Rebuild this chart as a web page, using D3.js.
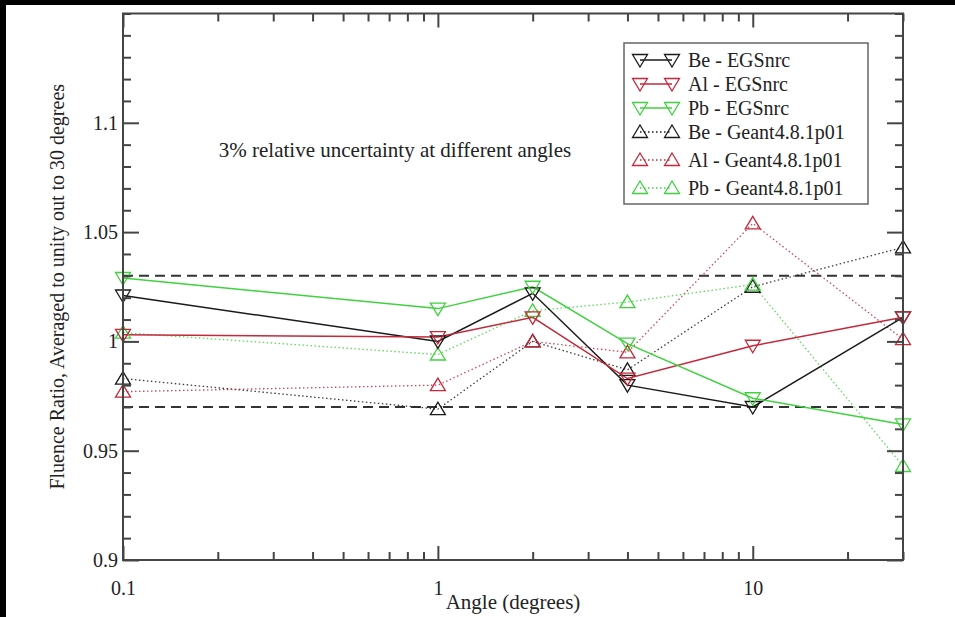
<!DOCTYPE html>
<html><head><meta charset="utf-8">
<script src="https://cdn.jsdelivr.net/npm/d3@7"></script>
<style>
html,body{margin:0;padding:0;background:#000;}
svg{display:block;}
svg text{font-family:"Liberation Serif","DejaVu Serif",serif !important;fill:#222;}
</style></head>
<body>
<svg id="chart" width="955" height="617"></svg>
<script>
const angles = [0.1, 1, 2, 4, 10, 30];
const beEGS  = [1.021, 1.000, 1.022, 0.980, 0.970, 1.011];
const alEGS  = [1.003, 1.002, 1.011, 0.983, 0.998, 1.011];
const pbEGS  = [1.029, 1.015, 1.025, 0.999, 0.974, 0.962];
const beG4   = [0.983, 0.969, 1.000, 0.987, 1.025, 1.043];
const alG4   = [0.977, 0.980, 1.000, 0.995, 1.054, 1.001];
const pbG4   = [1.004, 0.994, 1.014, 1.018, 1.026, 0.943];
const seriesNames = ["Be - EGSnrc","Al - EGSnrc","Pb - EGSnrc","Be - Geant4.8.1p01","Al - Geant4.8.1p01","Pb - Geant4.8.1p01"];
const xTickLabels = ["0.1","1","10"];
const yTickLabels = ["0.9","0.95","1","1.05","1.1"];
const bandLines = [1.03, 0.97];

const BLACK="#1a1a1a", RED="#c4283a", GREEN="#3ed23e";
const FONT='"Liberation Serif","DejaVu Serif",serif';
const series = [
  {name:seriesNames[0], vals:beEGS, color:BLACK, up:false, dotted:false},
  {name:seriesNames[1], vals:alEGS, color:RED,   up:false, dotted:false},
  {name:seriesNames[2], vals:pbEGS, color:GREEN, up:false, dotted:false},
  {name:seriesNames[3], vals:beG4,  color:BLACK, up:true,  dotted:true},
  {name:seriesNames[4], vals:alG4,  color:RED,   up:true,  dotted:true},
  {name:seriesNames[5], vals:pbG4,  color:GREEN, up:true,  dotted:true}
];

const svg = d3.select("#chart");
svg.append("rect").attr("x",6).attr("y",5).attr("width",949).attr("height",612).attr("fill","#fff");

const L=123, R=903, T=13.5, B=560;
const x = d3.scaleLog().domain([0.1,30]).range([L,R]);
const y = d3.scaleLinear().domain([0.9,1.15]).range([B,T]);

const g = svg.append("g");

bandLines.forEach(v=>{
  g.append("line").attr("x1",L).attr("x2",R).attr("y1",y(v)).attr("y2",y(v))
   .attr("stroke","#333").attr("stroke-width",2).attr("stroke-dasharray","10,6");
});

g.append("text").attr("x",395).attr("y",157).attr("text-anchor","middle")
 .style("font-family",FONT).style("font-size","21px").text("3% relative uncertainty at different angles");

const line = d3.line().x((d,i)=>x(angles[i])).y(d=>y(d));
const drawOrder = [3,4,5,0,1,2];
drawOrder.forEach(k=>{
  const s=series[k];
  g.append("path").datum(s.vals).attr("d",line).attr("fill","none")
   .attr("stroke",s.color).attr("stroke-width",s.dotted?1.3:1.5)
   .attr("stroke-dasharray",s.dotted?"1.5,2.5":null)
   .attr("opacity",s.dotted?0.85:1);
});
function tri(up){ return up ? "M0,-7L7.5,5.5L-7.5,5.5Z" : "M0,7L7.5,-5.5L-7.5,-5.5Z"; }
drawOrder.forEach(k=>{
  const s=series[k];
  g.selectAll(null).data(s.vals).enter().append("path")
   .attr("d",tri(s.up)).attr("transform",(d,i)=>`translate(${x(angles[i])},${y(d)})`)
   .attr("fill","none").attr("stroke",s.color).attr("stroke-width",1.3);
});

g.append("rect").attr("x",L).attr("y",T).attr("width",R-L).attr("height",B-T)
 .attr("fill","none").attr("stroke","#444").attr("stroke-width",2);

const xMajor=[0.1,1,10];
const xMinor=[];
[0.1,1,10].forEach(b=>{for(let m=2;m<=9;m++){const v=b*m; if(v<=30) xMinor.push(v);}});
const axB = d3.axisBottom(x).tickValues(xMajor).tickFormat((d,i)=>xTickLabels[i]).tickSize(-14).tickPadding(21);
const axBm = d3.axisBottom(x).tickValues(xMinor).tickFormat("").tickSize(-8);
const axT = d3.axisTop(x).tickValues(xMajor).tickFormat("").tickSize(-14);
const axTm = d3.axisTop(x).tickValues(xMinor).tickFormat("").tickSize(-8);
const yMajor=[0.9,0.95,1,1.05,1.1];
const yMinor=[];
for(let i=0;i<=25;i++){const v=+(0.9+i*0.01).toFixed(2); if(!yMajor.some(m=>Math.abs(m-v)<1e-9)) yMinor.push(v);}
const axL = d3.axisLeft(y).tickValues(yMajor).tickFormat((d,i)=>yTickLabels[i]).tickSize(-16).tickPadding(5);
const axLm = d3.axisLeft(y).tickValues(yMinor).tickFormat("").tickSize(-8);
const axR = d3.axisRight(y).tickValues(yMajor).tickFormat("").tickSize(-16);
const axRm = d3.axisRight(y).tickValues(yMinor).tickFormat("").tickSize(-8);

function style(sel){
  sel.attr("font-family",FONT);
  sel.select(".domain").remove();
  sel.selectAll(".tick line").attr("stroke","#444").attr("stroke-width",2);
  sel.selectAll(".tick text").style("font-family",FONT).style("font-size","20px").attr("fill","#222");
}
g.append("g").attr("transform",`translate(0,${B})`).call(axB).call(style);
g.append("g").attr("transform",`translate(0,${B})`).call(axBm).call(style);
g.append("g").attr("transform",`translate(0,${T})`).call(axT).call(style);
g.append("g").attr("transform",`translate(0,${T})`).call(axTm).call(style);
g.append("g").attr("transform",`translate(${L},0)`).call(axL).call(style);
g.append("g").attr("transform",`translate(${L},0)`).call(axLm).call(style);
g.append("g").attr("transform",`translate(${R},0)`).call(axR).call(style);
g.append("g").attr("transform",`translate(${R},0)`).call(axRm).call(style);

g.append("text").attr("x",(L+R)/2).attr("y",609).attr("text-anchor","middle")
 .style("font-family",FONT).style("font-size","21px").text("Angle (degrees)");
g.append("text").attr("transform",`translate(64,${(T+B)/2}) rotate(-90)`).attr("text-anchor","middle")
 .style("font-family",FONT).style("font-size","20px").text("Fluence Ratio, Averaged to unity out to 30 degrees");

const lg = g.append("g");
lg.append("rect").attr("x",624).attr("y",43).attr("width",244).attr("height",161)
  .attr("fill","#fff").attr("stroke","#666").attr("stroke-width",1.5);
const rowY=[60,84,108,132,160,188];
series.forEach((s,i)=>{
  const yy=rowY[i];
  lg.append("line").attr("x1",640).attr("x2",672).attr("y1",yy).attr("y2",yy)
    .attr("stroke",s.color).attr("stroke-width",s.dotted?1.3:1.5)
    .attr("stroke-dasharray",s.dotted?"1.5,2.5":null);
  [640,672].forEach(xx=>{
    lg.append("path").attr("d",tri(s.up)).attr("transform",`translate(${xx},${yy})`)
      .attr("fill","none").attr("stroke",s.color).attr("stroke-width",1.3);
  });
  lg.append("text").attr("x",688).attr("y",yy+7).style("font-family",FONT).style("font-size","20px").text(s.name);
});
</script>
</body></html>
